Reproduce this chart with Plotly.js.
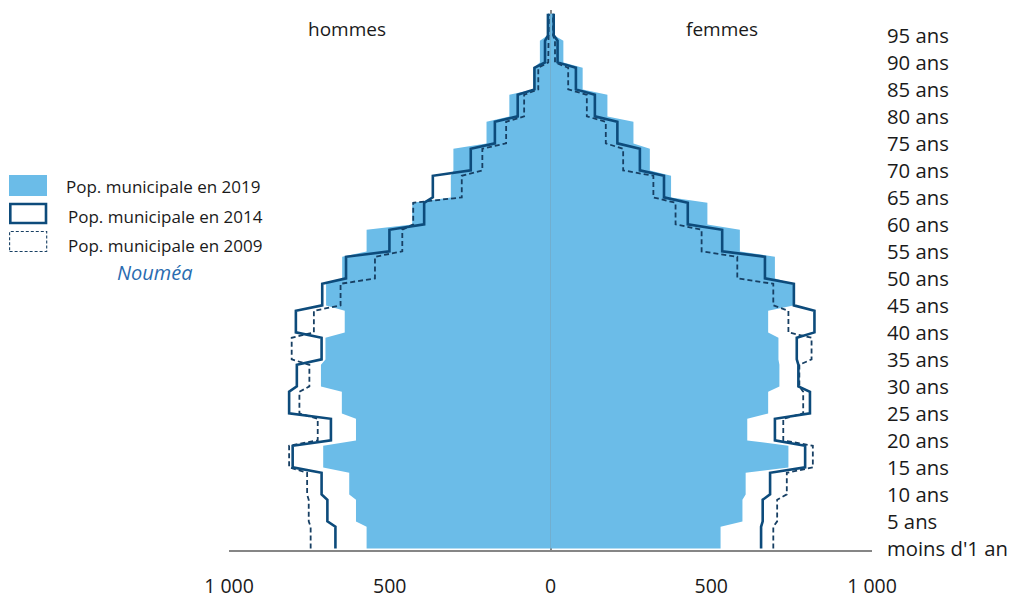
<!DOCTYPE html>
<html>
<head>
<meta charset="utf-8">
<script src="https://cdn.plot.ly/plotly-3.0.1.min.js"></script>
<style>html,body{margin:0;padding:0;background:#fff;}#chart{width:1019px;height:598px;}</style>
</head>
<body>
<div id="chart"></div>
<script>
// Age groups (start age of each 5-year group) and tick labels
const groupStart = [0,5,10,15,20,25,30,35,40,45,50,55,60,65,70,75,80,85,90,95];
const ageLabels = ["moins d'1 an","5 ans","10 ans","15 ans","20 ans","25 ans","30 ans","35 ans","40 ans","45 ans","50 ans","55 ans","60 ans","65 ans","70 ans","75 ans","80 ans","85 ans","90 ans","95 ans"];

// Average population per single year of age, by 5-year group
const hommes2019 = [572,605,626,707,605,649,714,700,640,698,648,572,430,310,302,199,128,53,33,9];
const hommes2014 = [669,694,712,802,683,813,789,712,792,710,636,501,393,366,248,173,102,50,17,8];
const hommes2009 = [746,752,757,813,724,781,750,805,736,653,546,461,427,276,212,138,82,38,7,5];
const femmes2019 = [529,597,607,740,612,677,712,709,677,755,698,589,488,375,309,258,177,100,40,12];
const femmes2014 = [655,660,683,792,698,807,771,766,821,757,667,534,427,353,278,208,138,79,22,10];
const femmes2009 = [693,705,735,816,724,786,774,812,740,693,581,470,389,320,226,172,113,55,14,8];

const xTickVals = [-1000,-500,0,500,1000];
const xTickText = ["1 000","500","0","500","1 000"];

const FILL = '#6bbce8';
const DARK = '#0d4b7b';
const DASH = '#173f63';

function stepped(values, sign){
  const x = [], y = [];
  values.forEach((v,i)=>{
    x.push(sign*v, sign*v);
    y.push(groupStart[i]+0.3, groupStart[i]+4.3);
  });
  return {x, y};
}

const traces = [];
function addSeries(values, sign, kind){
  const s = stepped(values, sign);
  if(kind==='fill'){
    traces.push({type:'scatter', mode:'lines', x:s.x, y:s.y, fill:'tozerox', fillcolor:FILL, line:{width:0, color:FILL}, hoverinfo:'skip', showlegend:false});
  } else if(kind==='solid'){
    traces.push({type:'scatter', mode:'lines', x:s.x, y:s.y, line:{width:2.6, color:DARK}, hoverinfo:'skip', showlegend:false});
  } else {
    traces.push({type:'scatter', mode:'lines', x:s.x, y:s.y, line:{width:1.8, color:DASH, dash:'5px,3px'}, hoverinfo:'skip', showlegend:false});
  }
}
addSeries(hommes2019,-1,'fill');
addSeries(femmes2019, 1,'fill');
addSeries(hommes2009,-1,'dash');
addSeries(femmes2009, 1,'dash');
addSeries(hommes2014,-1,'solid');
addSeries(femmes2014, 1,'solid');

const W = 643, L = 229, T = 10, H = 540;
const px = v => (v - L)/W;
const py = v => (T + H - v)/H;

const layout = {
  width:1019, height:598,
  margin:{l:L, r:1019-L-W, t:T, b:598-T-H},
  paper_bgcolor:'#fff', plot_bgcolor:'#fff',
  font:{family:'Open Sans, sans-serif', size:20, color:'#1a1a1a'},
  showlegend:false,
  xaxis:{range:[-1000,1000], tickvals:xTickVals, ticktext:xTickText, ticks:'', showgrid:false,
         zeroline:true, zerolinecolor:'#868686', zerolinewidth:2,
         showline:true, linecolor:'#868686', linewidth:2, layer:'above traces',
         ticklabelstandoff:18, tickfont:{size:19.5, color:'#1a1a1a'}, fixedrange:true},
  yaxis:{range:[0,100], side:'right', tickvals:groupStart.map(a=>a+0.25), ticktext:ageLabels,
         ticks:'', showgrid:false, zeroline:false, showline:false, ticklabelstandoff:14,
         tickfont:{size:20.3, color:'#1a1a1a'}, fixedrange:true},
  shapes:[
    {type:'rect', xref:'paper', yref:'paper', x0:px(9), x1:px(47), y0:py(196), y1:py(175), fillcolor:FILL, line:{width:0}},
    {type:'rect', xref:'paper', yref:'paper', x0:px(10.3), x1:px(46), y0:py(223), y1:py(204), fillcolor:'rgba(0,0,0,0)', line:{width:2.6, color:DARK}},
    {type:'rect', xref:'paper', yref:'paper', x0:px(9.6), x1:px(46.7), y0:py(251.5), y1:py(231.5), fillcolor:'rgba(0,0,0,0)', line:{width:1.1, color:DASH, dash:'3px,2px'}}
  ],
  annotations:[
    {text:'hommes', xref:'paper', yref:'paper', x:px(347), y:py(29), xanchor:'center', yanchor:'middle', showarrow:false, font:{size:19}},
    {text:'femmes', xref:'paper', yref:'paper', x:px(722), y:py(29), xanchor:'center', yanchor:'middle', showarrow:false, font:{size:19}},
    {text:'Pop. municipale en 2019', xref:'paper', yref:'paper', x:px(64), y:py(187), xanchor:'left', yanchor:'middle', showarrow:false, font:{size:17}},
    {text:'Pop. municipale en 2014', xref:'paper', yref:'paper', x:px(65.5), y:py(217), xanchor:'left', yanchor:'middle', showarrow:false, font:{size:17}},
    {text:'Pop. municipale en 2009', xref:'paper', yref:'paper', x:px(65.5), y:py(245), xanchor:'left', yanchor:'middle', showarrow:false, font:{size:17}},
    {text:'<i>Nouméa</i>', xref:'paper', yref:'paper', x:px(155), y:py(272), xanchor:'center', yanchor:'middle', showarrow:false, font:{size:20, color:'#2a6cb0'}}
  ]
};

Plotly.newPlot('chart', traces, layout, {staticPlot:true, displayModeBar:false});
</script>
</body>
</html>
